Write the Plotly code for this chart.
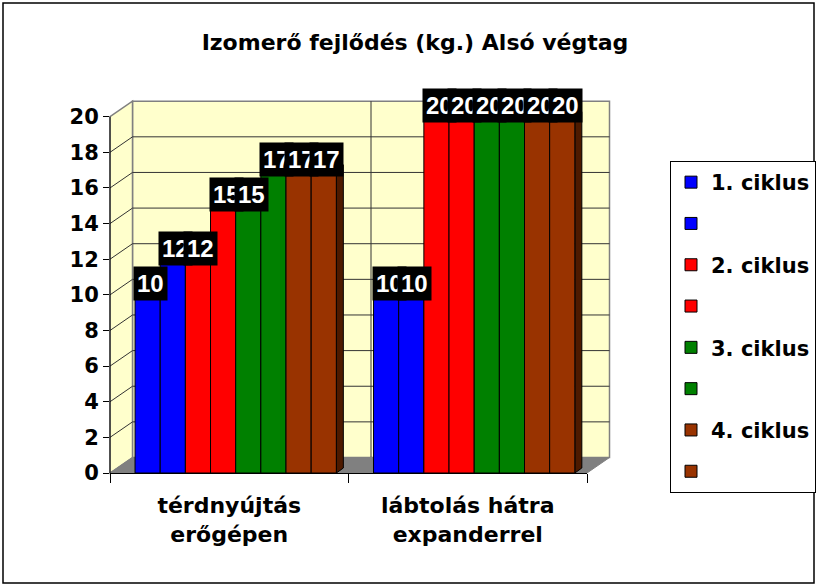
import plotly.graph_objects as go

# ---------------- data ----------------
categories = ["térdnyújtás erőgépen", "lábtolás hátra expanderrel"]
tick_labels = ["térdnyújtás<br>erőgépen", "lábtolás hátra<br>expanderrel"]
series_names = ["1. ciklus", " ", "2. ciklus", " ", "3. ciklus", " ", "4. ciklus", " "]
ciklus1_a = [10, 10]
ciklus1_b = [12, 10]
ciklus2_a = [12, 20]
ciklus2_b = [15, 20]
ciklus3_a = [15, 20]
ciklus3_b = [17, 20]
ciklus4_a = [17, 20]
ciklus4_b = [17, 20]
y_ticks = [0, 2, 4, 6, 8, 10, 12, 14, 16, 18, 20]
title_text = "Izomerő fejlődés (kg.) Alsó végtag"

series_values = [ciklus1_a, ciklus1_b, ciklus2_a, ciklus2_b,
                 ciklus3_a, ciklus3_b, ciklus4_a, ciklus4_b]
front_colors = ["#0000FF", "#0000FF", "#FF0000", "#FF0000",
                "#008000", "#008000", "#993300", "#993300"]
side_colors = ["#000080", "#000080", "#800000", "#800000",
               "#004000", "#004000", "#4D1A00", "#4D1A00"]

# ---------------- geometry (pixels) ----------------
IMG_W, IMG_H = 818, 588
L, R, T, B = 110, 587, 106, 473
YMAX = 20.6
UPX = (B - T) / YMAX          # pixels per unit
DX, DY = 22.5, 15.5            # wall depth
BW = 0.1055                    # bar width (category units)
OFF0 = -0.395                  # first bar offset
CAT_PX = (R - L) / 2
dxu = 7 / CAT_PX               # bar depth in x units
dyu = 5 / UPX                  # bar depth in y units

WALL = "#FFFFCC"
EDGE = "#808080"
FONT = "DejaVu Sans"


def fx(p):
    return (p - L) / (R - L)


def fy(p):
    return (B - p) / (B - T)


def ppath(pts):
    s = "M" + " L".join(f"{fx(x):.5f},{fy(y):.5f}" for x, y in pts) + " Z"
    return s


shapes = []
# outer border
shapes.append(dict(type="rect", xref="paper", yref="paper",
                   x0=fx(3), x1=fx(814), y0=fy(583), y1=fy(3),
                   line=dict(color="black", width=1.5), layer="below"))
top_front = B - y_ticks[-1] * UPX
# back wall
shapes.append(dict(type="path", xref="paper", yref="paper",
                   path=ppath([(L + DX, B - DY), (L + DX, top_front - DY),
                               (R + DX, top_front - DY), (R + DX, B - DY)]),
                   fillcolor=WALL, line=dict(color=EDGE, width=1.5), layer="below"))
# left wall
shapes.append(dict(type="path", xref="paper", yref="paper",
                   path=ppath([(L, B), (L, top_front), (L + DX, top_front - DY),
                               (L + DX, B - DY)]),
                   fillcolor=WALL, line=dict(color=EDGE, width=1.5), layer="below"))
# gridlines
for v in y_ticks[1:-1]:
    yf = B - v * UPX
    shapes.append(dict(type="line", xref="paper", yref="paper",
                       x0=fx(L + DX), x1=fx(R + DX), y0=fy(yf - DY), y1=fy(yf - DY),
                       line=dict(color="#333333", width=1), layer="below"))
    shapes.append(dict(type="line", xref="paper", yref="paper",
                       x0=fx(L), x1=fx(L + DX), y0=fy(yf), y1=fy(yf - DY),
                       line=dict(color="#333333", width=1), layer="below"))
# vertical divider on back wall
shapes.append(dict(type="line", xref="paper", yref="paper",
                   x0=fx(L + CAT_PX + DX), x1=fx(L + CAT_PX + DX),
                   y0=fy(B - DY), y1=fy(top_front - DY),
                   line=dict(color="#333333", width=1), layer="below"))
# floor
shapes.append(dict(type="path", xref="paper", yref="paper",
                   path=ppath([(L, B), (L + DX, B - DY), (R + DX, B - DY), (R, B)]),
                   fillcolor=EDGE, line=dict(color=EDGE, width=1), layer="below"))
# y axis line
shapes.append(dict(type="line", xref="paper", yref="paper",
                   x0=0, x1=0, y0=0, y1=fy(top_front),
                   line=dict(color="black", width=1), layer="below"))

# 3D faces of bars (from data)
for k, vals in enumerate(series_values):
    for j, v in enumerate(vals):
        x0 = j + OFF0 + k * BW
        x1 = x0 + BW
        side = (f"M{x1},0 L{x1 + dxu},{dyu} L{x1 + dxu},{v + dyu} L{x1},{v} Z")
        top = (f"M{x0},{v} L{x0 + dxu},{v + dyu} L{x1 + dxu},{v + dyu} L{x1},{v} Z")
        shapes.append(dict(type="path", xref="x", yref="y", path=side,
                           fillcolor=side_colors[k], line=dict(color="black", width=1),
                           layer="below"))
        shapes.append(dict(type="path", xref="x", yref="y", path=top,
                           fillcolor=front_colors[k], line=dict(color="black", width=1),
                           layer="below"))

fig = go.Figure()
for k, vals in enumerate(series_values):
    fig.add_trace(go.Bar(
        x=[0, 1], y=vals, name=series_names[k],
        width=BW, offset=OFF0 + k * BW,
        marker=dict(color=front_colors[k], line=dict(color="black", width=1)),
        legendgroup=f"g{k}", hoverinfo="skip",
    ))

annotations = []
for k, vals in enumerate(series_values):
    for j, v in enumerate(vals):
        xc = j + OFF0 + k * BW + BW / 2
        annotations.append(dict(
            x=xc, y=v, xref="x", yref="y", text=str(v), showarrow=False,
            xshift=3, yshift=11, bgcolor="black", borderpad=3,
            font=dict(family="Liberation Sans", size=24, color="white", weight="bold"),
        ))

fig.update_layout(
    width=IMG_W, height=IMG_H, autosize=False,
    margin=dict(l=L, r=IMG_W - R, t=T, b=IMG_H - B, pad=0),
    paper_bgcolor="white", plot_bgcolor="rgba(0,0,0,0)",
    barmode="overlay",
    title=dict(text=title_text, x=415 / IMG_W, y=1 - 42 / IMG_H,
               xanchor="center", yanchor="middle",
               font=dict(family=FONT, size=22, color="black", weight="bold")),
    xaxis=dict(range=[-0.5, 1.5], tickmode="array", tickvals=[0, 1],
               ticktext=tick_labels, ticks="", showgrid=False, zeroline=False,
               showline=True, linecolor="black", linewidth=1,
               minor=dict(tickmode="array", tickvals=[-0.5, 0.5, 1.5],
                          ticks="outside", ticklen=9, tickcolor="black"),
               ticklabelstandoff=13,
               tickfont=dict(family=FONT, size=22, color="black", weight="bold"),
               fixedrange=True),
    yaxis=dict(range=[0, YMAX], tickmode="array", tickvals=y_ticks,
               ticks="outside", ticklen=6, tickcolor="black",
               showgrid=False, zeroline=False, showline=False,
               tickfont=dict(family=FONT, size=21, color="black", weight="bold"),
               fixedrange=True),
    legend=dict(xref="container", yref="container",
                x=670 / IMG_W, y=1 - 161 / IMG_H, xanchor="left", yanchor="top",
                bgcolor="white", bordercolor="black", borderwidth=1,
                traceorder="grouped", tracegroupgap=11, maxheight=500,
                font=dict(family=FONT, size=21, color="black", weight="bold")),
    shapes=shapes,
    annotations=annotations,
    showlegend=True,
)

fig.write_html(
    "out.html",
    config={"displayModeBar": False, "responsive": False},
    post_script=("document.body.style.margin='0';"
                 "document.body.style.overflow='hidden';"
                 "document.documentElement.style.overflow='hidden';"),
)
